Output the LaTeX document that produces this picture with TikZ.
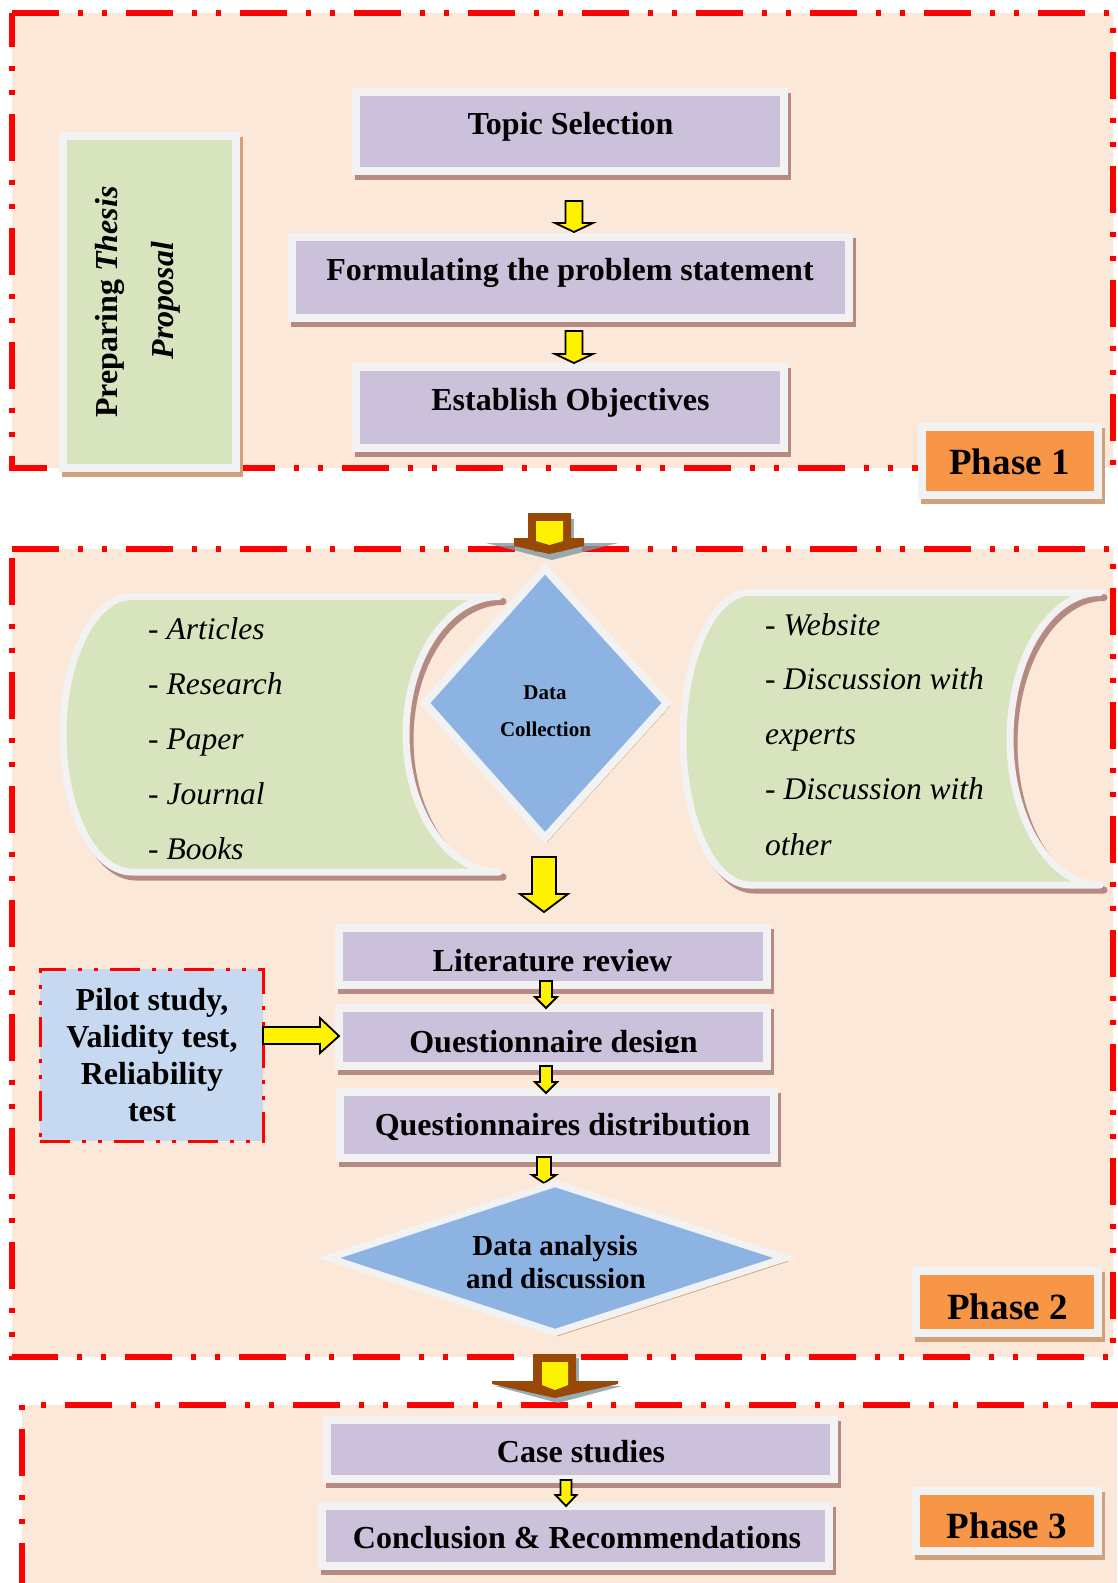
\documentclass[tikz,border=0pt]{standalone}
\usepackage{fontspec}
\setmainfont{Liberation Serif}
\definecolor{peach}{HTML}{FCE8D9}
\definecolor{pboxc}{HTML}{CCC1DA}
\definecolor{bord}{HTML}{F2F2F2}
\definecolor{shp}{HTML}{B58A82}
\definecolor{shtan}{HTML}{D0A17B}
\definecolor{greenc}{HTML}{D7E4BD}
\definecolor{bluec}{HTML}{8DB3E2}
\definecolor{lblue}{HTML}{C6D9F1}
\definecolor{orangec}{HTML}{F79646}
\definecolor{brownc}{HTML}{984807}
\definecolor{gshadow}{HTML}{7F9AA3}
\newcommand{\yarrdown}[6]{\draw[yarr] ({#1-#5},#2) -- ({#1+#5},#2) -- ({#1+#5},#3) -- ({#1+#6},#3) -- (#1,#4) -- ({#1-#6},#3) -- ({#1-#5},#3) -- cycle;}
\begin{document}
\begin{tikzpicture}[x=1pt,y=-1pt,
  phaseline/.style={draw=red,line width=6pt,dash pattern=on 47pt off 19pt on 5pt off 19pt on 5pt off 19pt},
  shadowp/.style={preaction={draw=shp,fill=shp,line width=8pt,transform canvas={shift={(3pt,-5pt)}}}},
  shadowt/.style={preaction={draw=shtan,fill=shtan,line width=8pt,transform canvas={shift={(3pt,-5pt)}}}},
  pbox/.style={rectangle,draw=bord,fill=pboxc,line width=8pt,inner sep=0pt,shadowp},
  phbox/.style={rectangle,draw=bord,fill=orangec,line width=8pt,inner sep=0pt,shadowt},
  panel/.style={fill=greenc,draw=bord,line width=7pt,line join=round,
     preaction={draw=shp,fill=shp,line width=7pt,line join=round,transform canvas={shift={(4pt,-5pt)}}}},
  dshape/.style={fill=bluec,draw=bord,line join=miter,
     preaction={draw=shtan,fill=shtan,line join=miter,transform canvas={shift={(2.5pt,-3.5pt)}}}},
  btxt/.style={inner sep=0pt,anchor=base,font=\bfseries\fontsize{32}{38}\selectfont},
  ptxt/.style={inner sep=0pt,anchor=base,font=\bfseries\fontsize{37}{44}\selectfont},
  itxt/.style={inner sep=0pt,anchor=base west,font=\itshape\fontsize{31.5}{36}\selectfont},
  yarr/.style={draw=black,fill=yellow,line width=1.8pt,line join=miter},
]
\useasboundingbox (0,0) rectangle (1117,1583);
\fill[white] (0,0) rectangle (1117,1583);

% phase backgrounds
\fill[peach] (12,13) rectangle (1113,468);
\fill[peach] (12,549) rectangle (1113,1357);
\fill[peach] (22,1405) rectangle (1117,1583);
\draw[phaseline] (12,13) -- (1113,13) -- (1113,468) -- (12,468) -- cycle;
\draw[phaseline] (12,549) -- (1113,549) -- (1113,1357) -- (12,1357) -- cycle;
\draw[phaseline] (22,1590) -- (22,1405) -- (1125,1405);

% ---------- Phase 1 ----------
\node[rectangle,draw=bord,fill=greenc,line width=8pt,inner sep=0pt,shadowt,
      minimum width=173pt,minimum height=332pt] (prep) at (149.5,302) {};
\node[btxt,rotate=90] (prept1) at (117,302) {Preparing \textit{Thesis}};
\node[btxt,rotate=90] (prept2) at (173,300.5) {\textit{Proposal}};

\node[pbox,minimum width=428pt,minimum height=79pt] (tsel) at (570,131.5) {};
\node[btxt] (tselt) at (570.5,134) {Topic Selection};
\node[pbox,minimum width=557pt,minimum height=81pt] (form) at (570.5,277.5) {};
\node[btxt] (formt) at (570,280) {Formulating the problem statement};
\node[pbox,minimum width=428pt,minimum height=81pt] (estab) at (570,407.5) {};
\node[btxt] (estabt) at (570.5,410) {Establish Objectives};

\yarrdown{574}{201}{223}{232}{8.5}{19}
\yarrdown{574}{331}{354}{363}{8.5}{19}

\node[phbox,minimum width=176pt,minimum height=68pt] (ph1) at (1010,461) {};
\node[ptxt] (ph1t) at (1009.5,474) {Phase 1};

% big arrow 1 -> 2
\fill[gshadow,opacity=0.8] (486,543) -- (618,543) -- (552,560) -- cycle;
\fill[gshadow,opacity=0.8] (571,519) rectangle (574,541);
\fill[brownc] (528,513) -- (571,513) -- (571,538) -- (584,538) -- (584,546) -- (549.5,554) -- (514,546) -- (514,538) -- (528,538) -- cycle;
\fill[yellow] (536,521) -- (563,521) -- (563,541) -- (549.5,545) -- (536,541) -- cycle;

% ---------- Phase 2 ----------
\draw[panel] (132,596.5) -- (499,596.5)
   arc[start angle=90,end angle=270,x radius=93pt,y radius=137.75pt]
   -- (132,872)
   arc[start angle=270,end angle=90,x radius=69pt,y radius=137.75pt] -- cycle;
\node[itxt] (la) at (148,639) {- Articles};
\node[itxt] (lb) at (148,694) {- Research};
\node[itxt] (lc) at (148,749) {- Paper};
\node[itxt] (ld) at (148,804) {- Journal};
\node[itxt] (le) at (148,859) {- Books};

\draw[panel] (750,592.5) -- (1100,592.5)
   arc[start angle=90,end angle=270,x radius=90pt,y radius=146.25pt]
   -- (750,885)
   arc[start angle=270,end angle=90,x radius=67pt,y radius=146.25pt] -- cycle;
\node[itxt] (ra) at (765,635) {- Website};
\node[itxt] (rb) at (765,689) {- Discussion with};
\node[itxt] (rc) at (765,744) {experts};
\node[itxt] (rd) at (765,799) {- Discussion with};
\node[itxt] (re) at (765,855) {other};

\draw[dshape,line width=8pt] (545,568.5) -- (667,703) -- (545,838) -- (425,703) -- cycle;
\node[inner sep=0pt,anchor=base,font=\bfseries\fontsize{21}{25}\selectfont] (dc1) at (545,699) {Data};
\node[inner sep=0pt,anchor=base,font=\bfseries\fontsize{21}{25}\selectfont] (dc2) at (545.5,736) {Collection};

\yarrdown{544}{857}{894}{912}{12}{24}

\node[pbox,minimum width=428pt,minimum height=57pt] (lit) at (553,956.5) {};
\node[btxt] (litt) at (552.5,971) {Literature review};
\node[pbox,minimum width=428pt,minimum height=58pt] (qdes) at (553,1037) {};
\begin{scope}
  \clip (330,1000) rectangle (780,1052.5);
  \node[btxt] (qdest) at (553.5,1052) {Questionnaire design};
\end{scope}
\node[pbox,minimum width=434pt,minimum height=66pt] (qdist) at (557,1125) {};
\node[btxt] (qdistt) at (562.5,1135) {Questionnaires distribution};

\yarrdown{546}{981}{997}{1008}{6}{11}
\yarrdown{546}{1066}{1082}{1093}{6}{11}
\yarrdown{544}{1157}{1175}{1183}{7}{12}

\node[rectangle,draw=red,fill=lblue,line width=3pt,
      dash pattern=on 30pt off 12pt on 4pt off 12pt on 4pt off 12pt,
      minimum width=223pt,minimum height=172pt,inner sep=0pt] (pilot) at (151.5,1055) {};
\node[btxt] (pil1) at (152,1010.5) {Pilot study,};
\node[btxt] (pil2) at (152,1047) {Validity test,};
\node[btxt] (pil3) at (152,1084) {Reliability};
\node[btxt] (pil4) at (152,1121) {test};

\draw[yarr] (263,1027) -- (320,1027) -- (320,1018) -- (339,1036) -- (320,1053) -- (320,1044) -- (263,1044) -- cycle;

\draw[dshape,line width=7pt] (555,1183.5) -- (785,1258) -- (555,1332.5) -- (329,1258) -- cycle;
\node[inner sep=0pt,anchor=base,font=\bfseries\fontsize{29}{35}\selectfont] (da1) at (555,1255) {Data analysis};
\node[inner sep=0pt,anchor=base,font=\bfseries\fontsize{29}{35}\selectfont] (da2) at (556,1288) {and discussion};

\node[phbox,minimum width=182pt,minimum height=62pt] (ph2) at (1007,1302) {};
\node[ptxt] (ph2t) at (1007.5,1319) {Phase 2};

% big arrow 2 -> 3
\fill[gshadow,opacity=0.8] (495,1386) -- (622,1386) -- (558,1403) -- cycle;
\fill[gshadow,opacity=0.8] (576,1358) rectangle (579,1382);
\fill[brownc] (533,1354) -- (576,1354) -- (576,1381) -- (618,1381) -- (618,1384) -- (555,1398) -- (492,1384) -- (492,1381) -- (533,1381) -- cycle;
\fill[yellow] (542,1362) -- (568,1362) -- (568,1385) -- (555,1390) -- (542,1385) -- cycle;

% ---------- Phase 3 ----------
\node[pbox,minimum width=507pt,minimum height=59pt] (case) at (580.5,1449.5) {};
\node[btxt] (caset) at (581,1462) {Case studies};
\node[pbox,minimum width=507pt,minimum height=60pt] (concl) at (575.5,1536) {};
\node[btxt] (conclt) at (577,1548) {Conclusion \& Recommendations};
\yarrdown{566}{1480}{1495}{1506}{5.5}{10.5}

\node[phbox,minimum width=182pt,minimum height=60pt] (ph3) at (1007,1521) {};
\node[ptxt] (ph3t) at (1007,1538) {Phase 3};
\end{tikzpicture}
\end{document}
